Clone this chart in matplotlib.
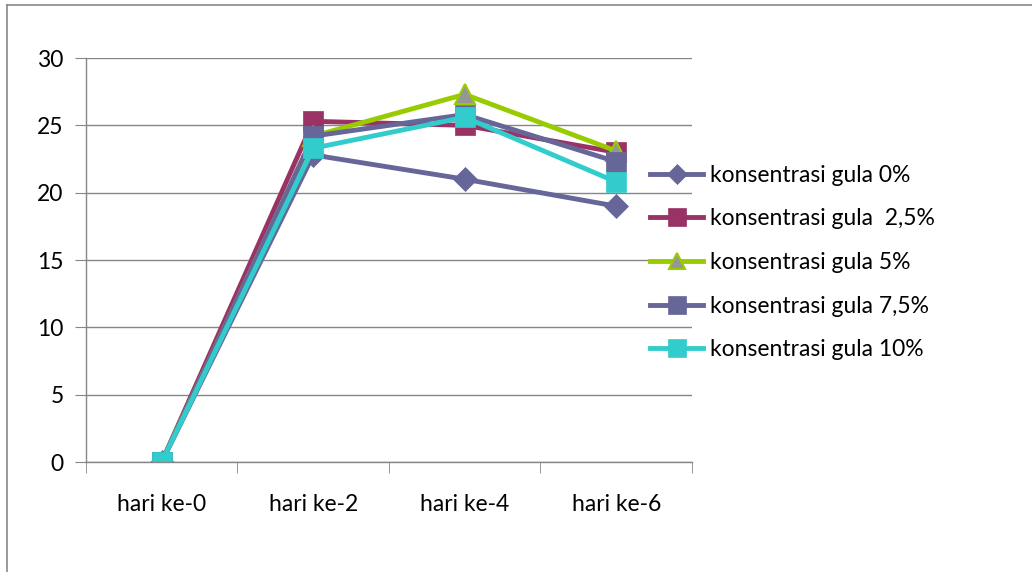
import numpy as np
import matplotlib.pyplot as plt
from matplotlib.lines import Line2D

days = ['hari ke-0', 'hari ke-2', 'hari ke-4', 'hari ke-6']
labels = ['konsentrasi gula 0%', 'konsentrasi gula  2,5%', 'konsentrasi gula 5%',
          'konsentrasi gula 7,5%', 'konsentrasi gula 10%']

gula_0 = [0, 22.8, 21.0, 19.0]
gula_25 = [0, 25.3, 25.0, 23.0]
gula_5 = [0, 24.2, 27.3, 23.1]
gula_75 = [0, 24.2, 25.8, 22.3]
gula_10 = [0, 23.3, 25.6, 20.8]

series = [gula_0, gula_25, gula_5, gula_75, gula_10]
colors = ['#666699', '#993366', '#99CC00', '#666699', '#33CCCC']
markers = ['D', 's', '^', 's', 's']
msizes = [12, 15, 14, 15, 15]
faces = ['#666699', '#993366', '#969696', '#666699', '#33CCCC']

plt.rcParams['font.family'] = ['Lato', 'DejaVu Sans']
fs = 16.5

fig = plt.figure(figsize=(10.32, 5.72), dpi=100)
ax = fig.add_axes([0.0833, 0.1923, 0.5872, 0.7063])

x = np.arange(len(days))
for vals, c, m, ms, fc in zip(series, colors, markers, msizes, faces):
    ax.plot(x, vals, color=c, lw=3.5, marker=m, markersize=ms,
            markerfacecolor=fc, markeredgecolor=c, markeredgewidth=1.5 if m == '^' else 0.5)

ax.set_xlim(-0.5, 3.5)
ax.set_ylim(0, 30)
ax.set_yticks(range(0, 31, 5))
ax.set_xticks(x)
ax.set_xticklabels(days)
ax.set_xticks(np.arange(-0.5, 4, 1), minor=True)
ax.tick_params(axis='x', which='major', length=0, pad=23, labelsize=fs)
ax.tick_params(axis='x', which='minor', length=8, color='#868686', direction='out')
ax.tick_params(axis='y', length=8, color='#868686', pad=8, labelsize=fs)
ax.yaxis.grid(True, color='#868686', lw=1)
ax.set_axisbelow(True)
for s in ['top', 'right']:
    ax.spines[s].set_visible(False)
for s in ['left', 'bottom']:
    ax.spines[s].set_color('#868686')
    ax.spines[s].set_linewidth(1)

handles = [Line2D([], [], color=c, lw=3.5, marker=m, markersize=ms * 0.85, markerfacecolor=fc,
                  markeredgecolor=c, markeredgewidth=1.5 if m == '^' else 0.5)
           for c, m, ms, fc in zip(colors, markers, msizes, faces)]
fig.legend(handles, labels, loc='upper left', bbox_to_anchor=(0.63, 0.712),
           frameon=False, fontsize=fs, handlelength=2.3, handletextpad=0.3,
           labelspacing=0.99, borderpad=0, borderaxespad=0)

# chart area border (top and left visible)
fig.add_artist(Line2D([7 / 1032, 1], [1 - 5 / 572, 1 - 5 / 572], color='#888888', lw=1.2,
                      transform=fig.transFigure))
fig.add_artist(Line2D([7 / 1032, 7 / 1032], [0, 1 - 5 / 572], color='#888888', lw=1.2,
                      transform=fig.transFigure))

fig.savefig('out.png', dpi=100)
